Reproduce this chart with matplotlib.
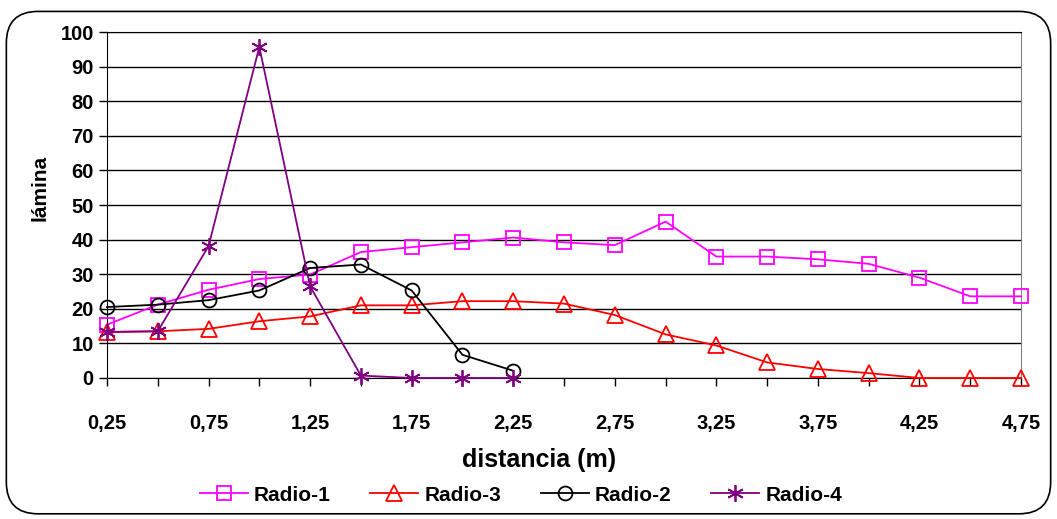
import matplotlib.pyplot as plt
from matplotlib.patches import FancyBboxPatch
from matplotlib.ticker import FixedLocator, FixedFormatter

plt.rcParams["font.family"] = ["Liberation Sans", "DejaVu Sans"]
plt.rcParams["font.weight"] = "bold"

# ── data ─────────────────────────────────────────────
distancia = [0.25, 0.50, 0.75, 1.00, 1.25, 1.50, 1.75, 2.00, 2.25, 2.50,
             2.75, 3.00, 3.25, 3.50, 3.75, 4.00, 4.25, 4.50, 4.75]
radio_1 = [15.4, 21.2, 25.5, 28.6, 29.9, 36.4, 37.8, 39.2, 40.6, 39.2,
           38.4, 45.2, 35.1, 35.1, 34.3, 33.0, 29.0, 23.6, 23.6]
radio_3 = [13.3, 13.5, 14.2, 16.4, 17.8, 21.0, 21.0, 22.2, 22.2, 21.5,
           18.2, 12.6, 9.4, 4.5, 2.6, 1.4, 0.0, 0.0, 0.0]
dist_2 = distancia[:9]
radio_2 = [20.5, 21.2, 22.5, 25.3, 31.8, 32.8, 25.3, 6.7, 2.1]
dist_4 = distancia[:9]
radio_4 = [13.3, 13.5, 38.1, 95.7, 26.5, 0.7, 0.0, 0.0, 0.0]

tick_labels = [f"{d:.2f}".replace(".", ",") if i % 2 == 0 else ""
               for i, d in enumerate(distancia)]

# ── plot ─────────────────────────────────────────────
fig = plt.figure(figsize=(10.57, 5.19), dpi=100)
ax = fig.add_axes([0.1012, 0.2717, 0.8648, 0.6666])

# rounded border round the whole chart
fig.patches.append(FancyBboxPatch((0.006, 0.010), 0.988, 0.968,
                                  boxstyle="round,pad=0,rounding_size=0.03",
                                  transform=fig.transFigure, fill=False,
                                  edgecolor="black", linewidth=1.2,
                                  mutation_aspect=1057 / 519))

ms = 10
style = dict(mew=1.3, lw=1.3, zorder=3, clip_on=False)
ax.plot(distancia, radio_1, color="#FF00FF", marker="s", ms=ms, mfc="none",
        label="Radio-1", **style)
ax.plot(distancia, radio_3, color="#FF0000", marker="^", ms=ms + 1, mfc="none",
        label="Radio-3", **style)
ax.plot(dist_2, radio_2, color="black", marker="o", ms=ms, mfc="none",
        label="Radio-2", **style)
ax.plot(dist_4, radio_4, color="#800080", marker=(6, 2, 0), ms=ms + 2,
        label="Radio-4", **style)

ax.set_xlim(0.25, 4.75)
ax.set_ylim(0, 100)
ax.set_yticks(range(0, 101, 10))
ax.xaxis.set_major_locator(FixedLocator(distancia))
ax.xaxis.set_major_formatter(FixedFormatter(tick_labels))
ax.yaxis.grid(True, color="black", lw=1.0)
ax.set_axisbelow(True)

ax.tick_params(axis="both", direction="out", length=6, width=1,
               labelsize=14.5)
ax.tick_params(axis="x", pad=20)
for lab in ax.get_xticklabels() + ax.get_yticklabels():
    lab.set_fontweight("bold")

for side in ["left", "bottom", "top"]:
    ax.spines[side].set_color("black")
ax.spines["right"].set_color("#808080")

ax.set_xlabel("distancia (m)", fontsize=18, fontweight="bold")
ax.xaxis.set_label_coords(0.473, -0.203)
ax.set_ylabel("lámina", fontsize=15, fontweight="bold")
ax.yaxis.set_label_coords(-0.063, 0.55)

fig.legend(*ax.get_legend_handles_labels(), loc="center",
           bbox_to_anchor=(0.493, 0.046), ncol=4, frameon=False,
           prop={"size": 15, "weight": "bold"}, handlelength=2.3,
           columnspacing=1.9, handletextpad=0.3)

fig.savefig("out.png", dpi=100)
